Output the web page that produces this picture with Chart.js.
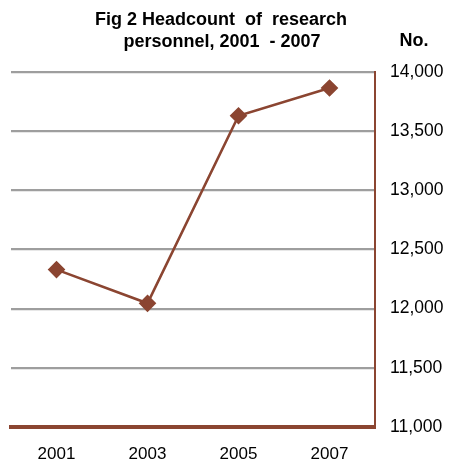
<!DOCTYPE html>
<html><head><meta charset="utf-8">
<script src="https://cdn.jsdelivr.net/npm/chart.js@4/dist/chart.umd.min.js"></script>
<style>html,body{margin:0;padding:0;background:#fff;}#wrap{width:449px;height:463px;position:relative;}</style>
</head><body><div id="wrap"><canvas id="c" width="449" height="463"></canvas></div>
<script>
const categories = ['2001', '2003', '2005', '2007'];
const headcount = [12330, 12045, 13630, 13865];
const titleLines = ['Fig 2 Headcount  of  research', 'personnel, 2001  - 2007'];
const unitLabel = 'No.';
const yMin = 11000, yMax = 14000, yStep = 500;

const BROWN = '#8B4531';
const FONT = "'Liberation Sans', Arial, sans-serif";

const textPlugin = {
  id: 'texts',
  afterDraw(chart) {
    const ctx = chart.ctx;
    ctx.save();
    ctx.fillStyle = '#000';
    ctx.textAlign = 'center';
    ctx.textBaseline = 'middle';
    ctx.font = 'bold 18px ' + FONT;
    ctx.fillText(titleLines[0], 221, 20);
    ctx.fillText(titleLines[1], 222, 42);
    ctx.fillText(unitLabel, 414, 41);
    ctx.restore();
  }
};

new Chart(document.getElementById('c'), {
  type: 'line',
  data: {
    labels: categories,
    datasets: [{
      data: headcount,
      borderColor: BROWN,
      backgroundColor: BROWN,
      borderWidth: 2.6,
      pointStyle: 'rectRot',
      pointRadius: 7,
      pointHoverRadius: 7,
      tension: 0
    }]
  },
  options: {
    responsive: false,
    animation: false,
    devicePixelRatio: 1,
    layout: { padding: { top: 72, left: 11, right: 0, bottom: 0 } },
    plugins: { legend: { display: false }, tooltip: { enabled: false } },
    scales: {
      x: {
        offset: true,
        grid: { display: false, drawTicks: false },
        border: { display: true, color: BROWN, width: 4 },
        ticks: { color: '#000', font: { family: FONT, size: 17 }, padding: 17 },
        afterFit(s) { s.height = 36; }
      },
      y: {
        position: 'right',
        min: yMin, max: yMax,
        grid: { color: '#9E9E9E', lineWidth: 2.2, drawTicks: false },
        border: { display: true, color: BROWN, width: 2 },
        ticks: {
          stepSize: yStep,
          color: '#000',
          font: { family: FONT, size: 17.5 },
          padding: 15,
          callback: v => v.toLocaleString('en-US')
        },
        afterFit(s) { s.width = 74; }
      }
    }
  },
  plugins: [textPlugin]
});
</script></body></html>
